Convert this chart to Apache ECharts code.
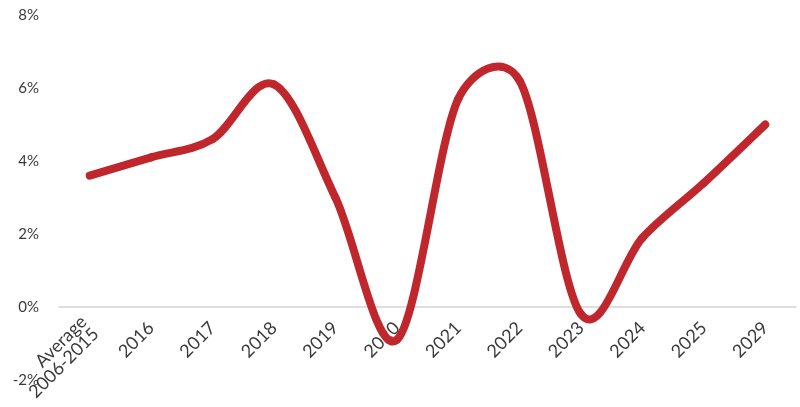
<!DOCTYPE html>
<html>
<head>
<meta charset="utf-8">
<script src="https://cdn.jsdelivr.net/npm/echarts@6/dist/echarts.min.js"></script>
<style>
html,body{margin:0;padding:0;background:#fff;}
#chart{width:800px;height:407px;}
</style>
</head>
<body>
<div id="chart"></div>
<script>
const categories = ["Average\n2006-2015", "2016", "2017", "2018", "2019", "2020", "2021", "2022", "2023", "2024", "2025", "2029"];
const growth = [3.6, 4.1, 4.6, 6.1, 3.0, -0.9, 5.7, 6.2, -0.2, 1.9, 3.4, 5.0];
const yTicks = { min: -2, max: 8, interval: 2 };

// Excel-style smoothed segment between point i and i+1 (control points from neighbours, pixel space)
function renderSegment(params, api) {
  const i = params.dataIndex;
  const n = growth.length;
  if (i >= n - 1) return null;
  const pt = k => api.coord([Math.max(0, Math.min(n - 1, k)), growth[Math.max(0, Math.min(n - 1, k))]]);
  const P0 = pt(i - 1), P1 = pt(i), P2 = pt(i + 1), P3 = pt(i + 2);
  const dist = (a, b) => Math.hypot(a[0] - b[0], a[1] - b[1]);
  const d12 = dist(P1, P2), d02 = dist(P0, P2), d13 = dist(P1, P3);
  let f = 1 / 6, g = 1 / 6;
  if (d02 / 6 >= d12 / 2 && d02 > 0) f = d12 / 2 / d02;
  if (d13 / 6 >= d12 / 2 && d13 > 0) g = d12 / 2 / d13;
  const C1 = [P1[0] + f * (P2[0] - P0[0]), P1[1] + f * (P2[1] - P0[1])];
  const C2 = [P2[0] - g * (P3[0] - P1[0]), P2[1] - g * (P3[1] - P1[1])];
  return {
    type: 'bezierCurve',
    shape: { x1: P1[0], y1: P1[1], cpx1: C1[0], cpy1: C1[1], cpx2: C2[0], cpy2: C2[1], x2: P2[0], y2: P2[1] },
    style: { stroke: '#c0272d', lineWidth: 8, fill: null, lineCap: 'round' },
    silent: true
  };
}

const chart = echarts.init(document.getElementById('chart'));
chart.setOption({
  backgroundColor: '#ffffff',
  animation: false,
  grid: { left: 59, right: 4, top: 15, bottom: 27, containLabel: false, outerBoundsMode: 'none' },
  xAxis: {
    type: 'category',
    data: categories,
    boundaryGap: true,
    axisLine: { onZero: true, lineStyle: { color: '#d9d2d2', width: 1.5 } },
    axisTick: { show: false },
    axisLabel: {
      rotate: 45,
      margin: -55,
      color: '#3a3a3a',
      fontSize: 18,
      fontFamily: 'Lato, "Open Sans", sans-serif',
      lineHeight: 17,
      interval: 0,
      hideOverlap: false
    },
    splitLine: { show: false }
  },
  yAxis: {
    type: 'value',
    min: yTicks.min,
    max: yTicks.max,
    interval: yTicks.interval,
    axisLine: { show: false },
    axisTick: { show: false },
    splitLine: { show: false },
    axisLabel: {
      formatter: '{value}%',
      color: '#3a3a3a',
      fontSize: 15,
      fontFamily: 'Lato, "Open Sans", sans-serif',
      margin: 20
    }
  },
  series: [{
    type: 'custom',
    coordinateSystem: 'cartesian2d',
    data: growth.map((v, i) => [i, v]),
    encode: { x: 0, y: 1 },
    renderItem: renderSegment,
    clip: false
  }]
});
</script>
</body>
</html>
